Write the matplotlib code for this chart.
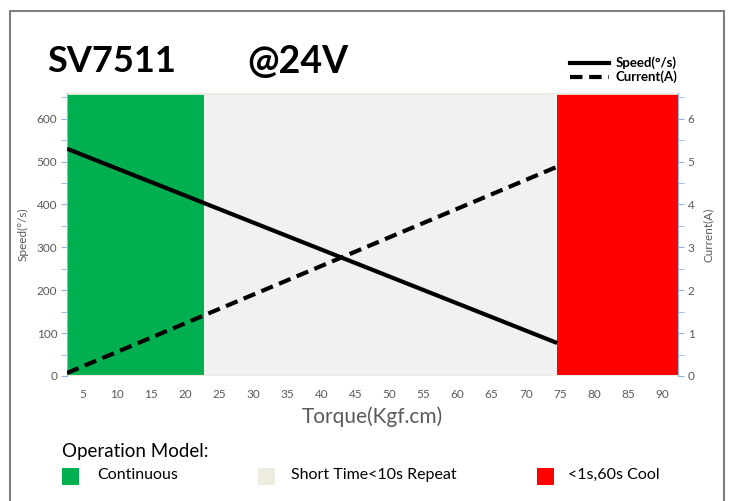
import matplotlib
matplotlib.use("Agg")
import matplotlib.pyplot as plt
from matplotlib.patches import Rectangle
from matplotlib.lines import Line2D
from matplotlib.ticker import MultipleLocator

plt.rcParams['font.family'] = ['Lato', 'DejaVu Sans']

# Data
torque_pts = [2.65, 74.6]
speed_vals = [530, 77]
current_vals = [0.07, 4.88]
zone_edges = [2.65, 22.8, 74.6, 92.35]
zone_colors = ['#00B050', '#F1F1F1', '#FF0000']
zone_labels = ['Continuous', 'Short Time<10s Repeat', '<1s,60s Cool']
legend_patch_colors = ['#00B050', '#EEECE1', '#FF0000']
xticks = list(range(5, 95, 5))
speed_ticks = list(range(0, 700, 100))
current_ticks = list(range(0, 7))

W, H = 732, 501
fig = plt.figure(figsize=(W / 100, H / 100), dpi=100)

ax = fig.add_axes([67 / W, 1 - 376 / H, (678 - 67) / W, (376 - 93) / H])
ax2 = ax.twinx()

# zones
for i in range(3):
    ax.axvspan(zone_edges[i], zone_edges[i + 1], color=zone_colors[i], zorder=0, lw=0)
ax.axhline(660, color='#EEECE1', lw=2, zorder=0.5)
ax.axhline(0, color='#EEECE1', lw=1.5, zorder=0.5)

ax.plot(torque_pts, speed_vals, color='black', lw=3, solid_capstyle='butt', zorder=3)
ax2.plot(torque_pts, current_vals, color='black', lw=3, ls=(0, (3, 1.6)), zorder=3)

ax.set_xlim(zone_edges[0], zone_edges[-1])
ax.set_ylim(0, 660)
ax2.set_ylim(0, 6.6)

tick_col = '#595959'
axis_col = '#8EB4E3'
ax.set_xticks(xticks)
ax.tick_params(axis='x', length=0, labelsize=8.5, labelcolor=tick_col, pad=9)
ax.set_yticks(speed_ticks)
ax.yaxis.set_minor_locator(MultipleLocator(50))
ax.tick_params(axis='y', which='both', color=axis_col, labelsize=8.5, labelcolor=tick_col, length=4, pad=3)
ax2.set_yticks(current_ticks)
ax2.yaxis.set_minor_locator(MultipleLocator(0.5))
ax2.tick_params(axis='y', which='both', color=axis_col, labelsize=8.5, labelcolor=tick_col, length=4, pad=3)

for a in (ax, ax2):
    a.spines['top'].set_visible(False)
    a.spines['bottom'].set_visible(False)
    a.spines['left'].set_color(axis_col)
    a.spines['right'].set_color(axis_col)
ax.spines['right'].set_visible(False)
ax2.spines['left'].set_visible(False)

ax.set_xlabel('Torque(Kgf.cm)', fontsize=15, color=tick_col, labelpad=5)
ax.set_ylabel('Speed(°/s)', fontsize=8.5, color=tick_col, labelpad=6)
ax2.set_ylabel('Current(A)', fontsize=8.5, color=tick_col, labelpad=6)

# Titles
fig.text(47 / W, 1 - 62 / H, 'SV7511', fontsize=26, fontweight='bold', va='center', ha='left')
fig.text(247 / W, 1 - 62 / H, '@24V', fontsize=27, fontweight='bold', va='center', ha='left')

# top-right legend
handles = [Line2D([], [], color='black', lw=3),
           Line2D([], [], color='black', lw=3, ls=(0, (3, 1.6)))]
fig.legend(handles, ['Speed(°/s)', 'Current(A)'], loc='center left',
           bbox_to_anchor=(563 / W, 1 - 70 / H), frameon=False,
           prop={'weight': 'bold', 'size': 9.5}, handlelength=3.0,
           handletextpad=0.5, labelspacing=0.1, borderpad=0)

# Operation model legend
fig.text(62 / W, 1 - 451 / H, 'Operation Model:', fontsize=13.5, va='center', ha='left')
patch_x = [62, 258, 537]
text_x = [97, 291, 568]
for px, tx, c, lab in zip(patch_x, text_x, legend_patch_colors, zone_labels):
    fig.patches.append(Rectangle((px / W, 1 - 485 / H), 17 / W, 17 / H,
                                 transform=fig.transFigure, facecolor=c, edgecolor='none'))
    fig.text(tx / W, 1 - 475 / H, lab, fontsize=11.5, va='center', ha='left')

# outer border
fig.patches.append(Rectangle((10 / W, -0.02), 714 / W, 1 - 11 / H + 0.02,
                             transform=fig.transFigure, facecolor='none',
                             edgecolor='#7F7F7F', lw=1.5))

fig.savefig('out.png', dpi=100)
